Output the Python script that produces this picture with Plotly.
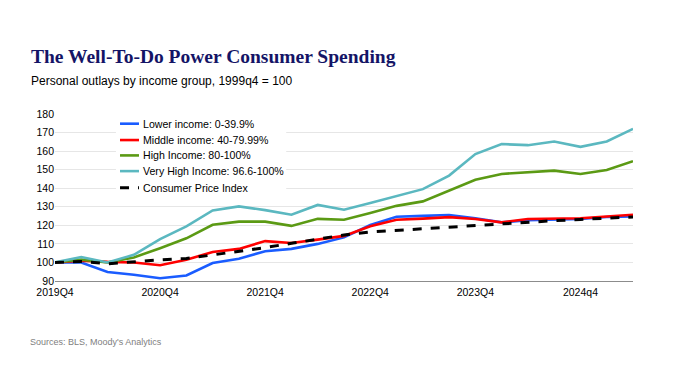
import plotly.graph_objects as go

quarters = ["2019Q4","2020Q1","2020Q2","2020Q3","2020Q4","2021Q1","2021Q2","2021Q3",
            "2021Q4","2022Q1","2022Q2","2022Q3","2022Q4","2023Q1","2023Q2","2023Q3",
            "2023Q4","2024Q1","2024Q2","2024Q3","2024Q4","2025Q1","2025Q2"]

lower_income = [100, 100, 94.8, 93.4, 91.5, 93.0, 99.7, 102.0, 106.0, 107.3, 110.0, 113.5,
                120.2, 124.6, 125.1, 125.6, 123.8, 121.6, 122.7, 123.0, 123.4, 124.5, 124.8]
middle_income = [100, 101.0, 100.3, 100.0, 98.5, 101.5, 105.6, 107.3, 111.5, 110.5, 112.3, 114.3,
                 119.5, 123.0, 123.6, 124.4, 123.4, 121.6, 123.4, 123.4, 123.8, 124.8, 125.7]
high_income = [100, 101.5, 100.0, 102.7, 107.7, 113.0, 120.3, 122.0, 122.0, 119.7, 123.5, 123.0,
               126.6, 130.5, 132.9, 138.6, 144.6, 147.7, 148.6, 149.5, 147.7, 149.8, 154.6]
very_high_income = [100, 102.9, 100.0, 104.1, 112.6, 119.4, 128.0, 130.2, 128.2, 125.7, 131.0, 128.4,
                    132.0, 135.9, 139.5, 146.8, 158.4, 163.8, 163.2, 165.2, 162.3, 165.2, 172.0]
cpi = [100, 100.5, 99.3, 100.4, 101.4, 102.1, 104.0, 105.7, 108.0, 110.3, 112.6, 114.8,
       116.4, 117.3, 118.2, 118.9, 119.8, 120.7, 122.0, 122.5, 123.2, 123.9, 124.5]

tick_positions = [0, 4, 8, 12, 16, 20]
tick_labels = ["2019Q4", "2020Q4", "2021Q4", "2022Q4", "2023Q4", "2024q4"]

series_names = ["Lower income: 0-39.9%", "Middle income: 40-79.99%", "High Income: 80-100%",
                "Very High Income: 96.6-100%", "Consumer Price Index"]

x = list(range(len(quarters)))

styles = [("#1a5cff", "solid"), ("#ff0000", "solid"), ("#5b9a14", "solid"),
          ("#5bb8c0", "solid"), ("#000000", "dash")]
all_values = [lower_income, middle_income, high_income, very_high_income, cpi]

fig = go.Figure()
for name, vals, (color, dash) in zip(series_names, all_values, styles):
    fig.add_trace(go.Scatter(
        x=x, y=vals, name=name, mode="lines",
        customdata=quarters,
        hovertemplate="%{customdata}: %{y}<extra>" + name + "</extra>",
        line=dict(color=color, width=3 if dash == "dash" else 2.6, dash=dash),
    ))

# Legend drawn inside the plot area (compact rows like the original)
shapes = [dict(type="rect", xref="x", yref="y", x0=2.32, x1=8.8, y0=134.7, y1=180,
               fillcolor="white", line=dict(width=0), layer="between")]
annotations = []
row_y = [0.942, 0.844, 0.752, 0.658, 0.558]
for name, (color, dash), yy in zip(series_names, styles, row_y):
    shapes.append(dict(type="line", xref="paper", yref="paper", x0=0.1125, x1=0.1453, y0=yy, y1=yy,
                       line=dict(color=color, width=3 if dash == "dash" else 2.6, dash=dash)))
    annotations.append(dict(text=name, xref="paper", yref="paper", x=0.148, y=yy,
                            xanchor="left", yanchor="middle", showarrow=False,
                            font=dict(family="Liberation Sans, Arial, sans-serif", size=10.6, color="#000000")))

annotations += [
    dict(text="<b>The Well-To-Do Power Consumer Spending</b>", xref="paper", yref="paper",
         x=-0.045, y=1.347, xanchor="left", yanchor="middle", showarrow=False,
         font=dict(family="Liberation Serif, Times New Roman, serif", size=19.5, color="#141466")),
    dict(text="Personal outlays by income group, 1999q4 = 100", xref="paper", yref="paper",
         x=-0.045, y=1.198, xanchor="left", yanchor="middle", showarrow=False,
         font=dict(family="Liberation Sans, Arial, sans-serif", size=12, color="#000000")),
    dict(text="Sources: BLS, Moody's Analytics", xref="paper", yref="paper",
         x=-0.047, y=-0.365, xanchor="left", yanchor="middle", showarrow=False,
         font=dict(family="Liberation Sans, Arial, sans-serif", size=9, color="#808080")),
]

fig.update_layout(
    width=680, height=383,
    margin=dict(l=47, r=55, t=106, b=110),
    paper_bgcolor="white", plot_bgcolor="white",
    font=dict(family="Liberation Sans, Arial, sans-serif", size=11, color="#000000"),
    showlegend=False,
    xaxis=dict(
        range=[0, 22], tickmode="array", tickvals=tick_positions, ticktext=tick_labels,
        showgrid=False, zeroline=False, showline=True, linecolor="#8c8c8c", linewidth=1,
        ticks="", tickfont=dict(size=10.5, color="#000000"), ticklabelstandoff=1,
        fixedrange=True,
    ),
    yaxis=dict(
        range=[90, 180], tickmode="array", tickvals=list(range(90, 181, 10)),
        showgrid=True, gridcolor="#e6e6e6", gridwidth=1, zeroline=False,
        showline=False, ticks="", tickfont=dict(size=10.5, color="#000000"),
        fixedrange=True,
    ),
    shapes=shapes,
    annotations=annotations,
)

fig.write_html("out.html")
